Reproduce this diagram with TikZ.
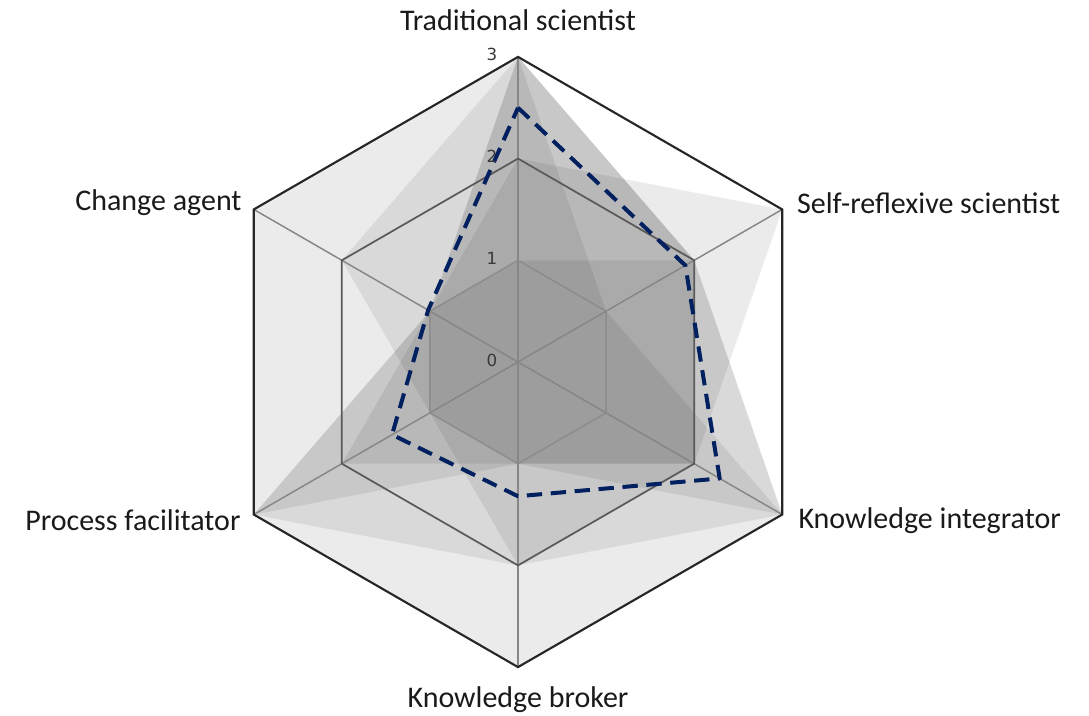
\documentclass[tikz,border=0pt]{standalone}
\usepackage{fontspec}
\setmainfont{Carlito}
\newfontfamily\tickfont{DejaVu Sans}
\definecolor{navy}{HTML}{002060}
\definecolor{labelgray}{HTML}{1A1A1A}

% one unit on the radar axes (px)
\newcommand\ru{101.7}
% one grey profile: T, SR, KI, KB, PF, CA
\newcommand\profile[6]{%
  \fill[layer] (90:{#1*\ru}) -- (30:{#2*\ru}) -- (-30:{#3*\ru})
    -- (-90:{#4*\ru}) -- (210:{#5*\ru}) -- (150:{#6*\ru}) -- cycle;}

\tikzset{
  layer/.style={fill=black,fill opacity=0.08},
  spoke/.style={draw=gray!95,line width=1.1pt},
  ringa/.style={draw=gray!90,line width=1.1pt},
  ringb/.style={draw=black!65,line width=1.3pt},
  ringc/.style={draw=black!85,line width=1.6pt},
  meanline/.style={draw=navy,line width=3pt,dash pattern=on 11.5pt off 6.5pt,line join=round},
  lbl/.style={font=\fontsize{22.5}{26}\selectfont,text=labelgray,inner sep=0pt},
  tick/.style={font=\tickfont\fontsize{12.5}{14}\selectfont,text=black!78,inner sep=0pt}
}

\begin{document}
\begin{tikzpicture}[x=0.75pt,y=0.75pt]
   \useasboundingbox (0,0) rectangle (1089,715);
   \begin{scope}[shift={(518,353)}]
   % profiles
   \profile{3}{2}{3}{3}{3}{3}
   \profile{2}{3}{2}{1}{2}{1}
   \profile{3}{1}{3}{2}{1}{2}
   \profile{3}{2}{2}{1}{3}{1}
   \profile{3}{2}{3}{1}{1}{1}
   \profile{1}{2}{2}{2}{3}{1}

   % grid
   \foreach \a in {90,30,-30,-90,-150,-210}
     \draw[spoke] (0,0) -- (\a:{3*\ru});
   \draw[ringa] (90:\ru) \foreach \a in {30,-30,-90,-150,-210} {-- (\a:\ru)} -- cycle;
   \draw[ringb] (90:{2*\ru}) \foreach \a in {30,-30,-90,-150,-210} {-- (\a:{2*\ru})} -- cycle;
   \draw[ringc] (90:{3*\ru}) \foreach \a in {30,-30,-90,-150,-210} {-- (\a:{3*\ru})} -- cycle;

   % mean
   \draw[meanline] (90:{2.5*\ru}) -- (30:{1.9*\ru}) -- (-30:{2.29*\ru})
     -- (-90:{1.32*\ru}) -- (210:{1.43*\ru}) -- (150:{1.02*\ru}) -- cycle;

   % axis values
   \node[tick,xshift=-19.5pt,yshift=1.5pt] (v0) at (0,0) {0};
   \node[tick,xshift=-19.5pt,yshift=1.5pt] (v1) at (90:\ru) {1};
   \node[tick,xshift=-19.5pt,yshift=1.5pt] (v2) at (90:{2*\ru}) {2};
   \node[tick,xshift=-19.5pt,yshift=1.5pt] (v3) at (90:{3*\ru}) {3};

   % axis names
   \node[lbl] (ts) at (90:3.36*\ru) {Traditional scientist};
   \node[lbl,anchor=west,xshift=11pt,yshift=5pt] (sr) at (30:{3*\ru}) {Self-reflexive scientist};
   \node[lbl,anchor=west,xshift=12pt,yshift=-4.5pt] (ki) at (-30:{3*\ru}) {Knowledge integrator};
   \node[lbl] (kb) at (-90:3.32*\ru) {Knowledge broker};
   \node[lbl,anchor=east,xshift=-9.75pt,yshift=-4.5pt] (pf) at (210:{3*\ru}) {Process facilitator};
   \node[lbl,anchor=east,xshift=-9pt,yshift=5pt] (ca) at (150:{3*\ru}) {Change agent};
   \end{scope}
\end{tikzpicture}
\end{document}
